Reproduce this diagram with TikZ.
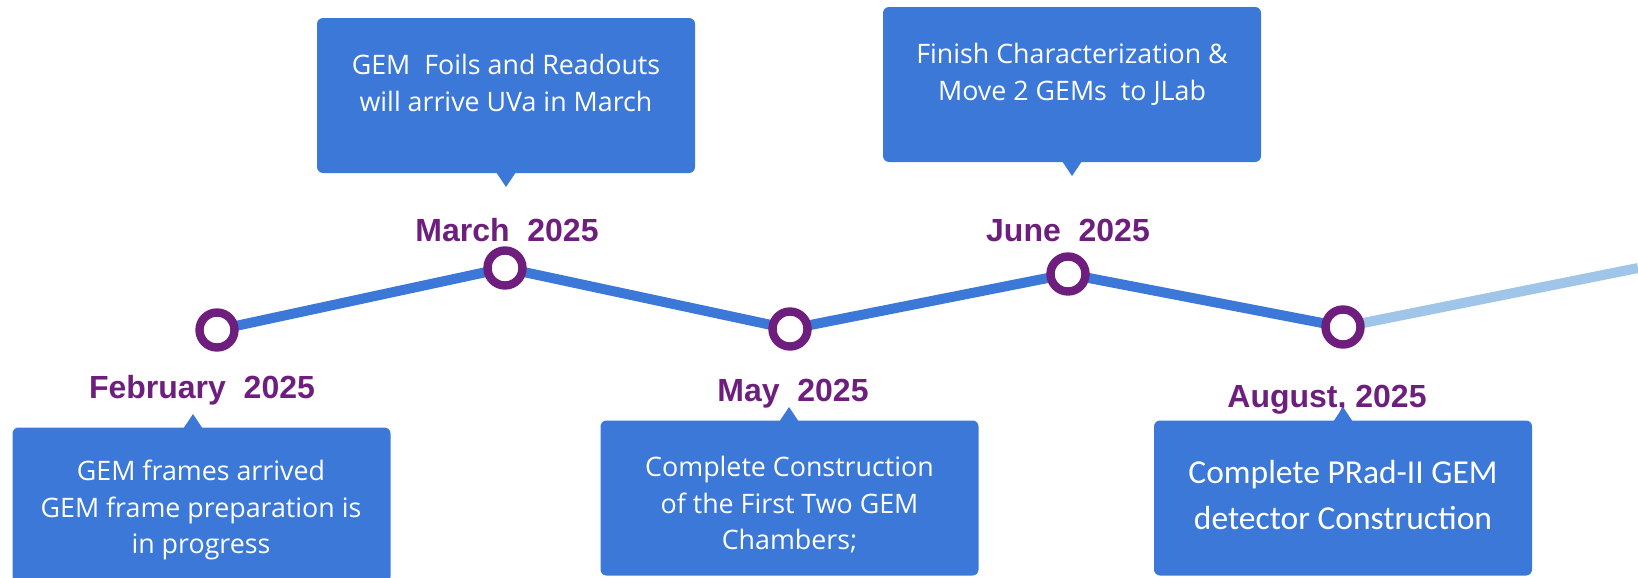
\documentclass[tikz,border=0pt]{standalone}
\usepackage{fontspec}
\setmainfont{Liberation Sans}
\newfontfamily\notefont{Open Sans}
\newfontfamily\calibrifont{Carlito}
\usetikzlibrary{backgrounds}

\definecolor{boxblue}{HTML}{3C78D8}
\definecolor{paleblue}{HTML}{9FC5E8}
\definecolor{datepurple}{HTML}{6E1E7C}

\tikzset{
  evbox/.style={fill=boxblue, rounded corners=3pt, minimum width=189pt, minimum height=77.5pt, inner sep=0pt},
  evtext/.style={text=white, align=center, anchor=north, inner sep=0pt, font=\notefont\fontsize{13.4}{18.2}\selectfont},
  evdate/.style={text=datepurple, anchor=base, inner sep=0pt, font=\bfseries\fontsize{16}{19}\selectfont},
  evdot/.style={circle, draw=datepurple, line width=4.2pt, fill=white, minimum size=17.5pt, inner sep=0pt},
  track/.style={line width=5pt, draw=boxblue},
}

\begin{document}
\begin{tikzpicture}[x=0.5pt, y=-0.5pt]
    \useasboundingbox (0,0) rectangle (1638,578);

    % milestones on the track
    \node[evdot] (feb) at (217,330) {};
    \node[evdot] (mar) at (505,268) {};
    \node[evdot] (may) at (790,329) {};
    \node[evdot] (jun) at (1068,274) {};
    \node[evdot] (aug) at (1343,327) {};
    \coordinate (trackend) at (1638,268);

    \begin{scope}[on background layer]
        \draw[track] (feb.center) -- (mar.center) -- (may.center) -- (jun.center) -- (aug.center);
        \draw[track, draw=paleblue] (aug.center) -- (trackend);
    \end{scope}

    % dates
    \node[evdate] (febdate) at (202,398) {February\ \ 2025};
    \node[evdate] (mardate) at (507,241) {March\ \ 2025};
    \node[evdate] (maydate) at (793,401) {May\ \ 2025};
    \node[evdate] (jundate) at (1068,241) {June\ \ 2025};
    \node[evdate] (augdate) at (1327,407) {August,\ 2025};

    % callout boxes
    \node[evbox] (febbox) at (201.5,505) {};
    \node[evbox] (marbox) at (506,95.5) {};
    \node[evbox] (maybox) at (789.5,498) {};
    \node[evbox] (junbox) at (1072,84.5) {};
    \node[evbox] (augbox) at (1343,498) {};

    \coordinate (febtip) at (193,414);
    \coordinate (martip) at (506,187);
    \coordinate (maytip) at (789,407);
    \coordinate (juntip) at (1072,176);
    \coordinate (augtip) at (1343,407);

    \fill[boxblue] (febtip) -- ++(10,15) -- ++(-20,0) -- cycle;
    \fill[boxblue] (martip) -- ++(10,-15) -- ++(-20,0) -- cycle;
    \fill[boxblue] (maytip) -- ++(10,15) -- ++(-20,0) -- cycle;
    \fill[boxblue] (juntip) -- ++(10,-15) -- ++(-20,0) -- cycle;
    \fill[boxblue] (augtip) -- ++(10,15) -- ++(-20,0) -- cycle;

    \node[evtext] (febnote) at (201,460) {GEM frames arrived\\GEM frame preparation is\\in progress};
    \node[evtext] (marnote) at (506,54) {GEM\ \ Foils and Readouts\\will arrive UVa in March};
    \node[evtext] (maynote) at (789.5,456) {Complete Construction\\of the First Two GEM\\Chambers;};
    \node[evtext] (junnote) at (1072,43) {Finish Characterization \&\\Move 2 GEMs\ \ to JLab};
    \node[evtext, font=\calibrifont\fontsize{16.75}{23}\selectfont] (augnote) at (1343,460)
        {Complete PRad-II GEM\\detector Construction};
\end{tikzpicture}
\end{document}
